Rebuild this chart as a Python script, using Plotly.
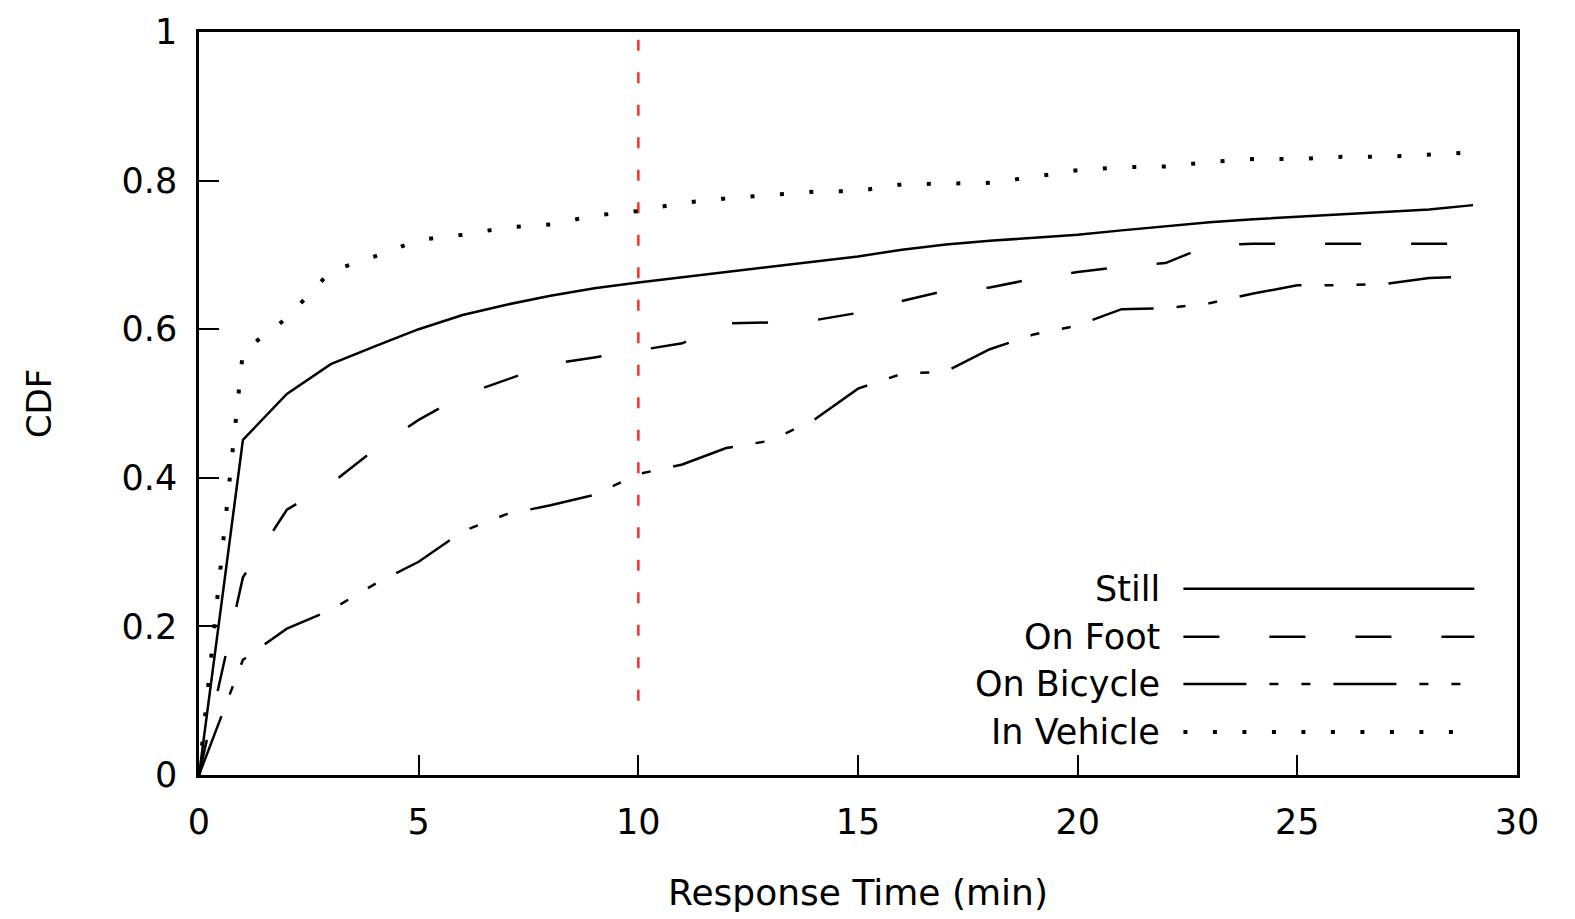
import plotly.graph_objects as go

# ---------------- data ----------------
time_min = list(range(0, 30))

still = [0, 0.451, 0.513, 0.553, 0.577, 0.600, 0.619, 0.633, 0.645, 0.655,
         0.663, 0.670, 0.677, 0.684, 0.690, 0.698, 0.707, 0.714, 0.719, 0.723,
         0.727, 0.733, 0.739, 0.744, 0.748, 0.751, 0.754, 0.757, 0.761, 0.767]

on_foot = [0, 0.266, 0.357, 0.392, 0.438, 0.478, 0.511, 0.532, 0.553, 0.562,
           0.572, 0.581, 0.608, 0.609, 0.612, 0.622, 0.638, 0.652, 0.656, 0.668,
           0.677, 0.684, 0.689, 0.713, 0.715, 0.715, 0.715, 0.715, 0.715, 0.715]

on_bicycle = [0, 0.155, 0.197, 0.222, 0.257, 0.287, 0.328, 0.351, 0.363, 0.377,
              0.405, 0.418, 0.440, 0.450, 0.478, 0.520, 0.540, 0.543, 0.573, 0.593,
              0.605, 0.627, 0.628, 0.635, 0.648, 0.659, 0.659, 0.661, 0.669, 0.671]

in_vehicle = [0, 0.570, 0.615, 0.678, 0.698, 0.720, 0.727, 0.737, 0.741, 0.753,
              0.759, 0.770, 0.776, 0.780, 0.785, 0.786, 0.795, 0.796, 0.797, 0.805,
              0.814, 0.818, 0.819, 0.825, 0.829, 0.829, 0.832, 0.832, 0.835, 0.838]

threshold_x = [10, 10]
threshold_y = [0.1, 1.0]

series_names = ["Still", "On Foot", "On Bicycle", "In Vehicle"]
x_ticks = [0, 5, 10, 15, 20, 25, 30]
y_ticks = [0, 0.2, 0.4, 0.6, 0.8, 1]
y_tick_labels = ["0", "0.2", "0.4", "0.6", "0.8", "1"]

# ---------------- styles ----------------
FONT = "DejaVu Sans"
dashes = ["solid", "36px,50px", "63px,23px,9px,23px,9px,23px", "4px,25.5px"]
widths = [2.5, 2.5, 2.5, 4]
series_values = [still, on_foot, on_bicycle, in_vehicle]

fig = go.Figure()

fig.add_trace(go.Scatter(
    x=threshold_x, y=threshold_y, mode="lines",
    line=dict(color="#ff3333", width=2.6, dash="11px,21.5px"),
    showlegend=False, hoverinfo="skip"))

for name, vals, dash, w in zip(series_names, series_values, dashes, widths):
    fig.add_trace(go.Scatter(
        x=time_min, y=vals, mode="lines", name=name,
        line=dict(color="black", width=w, dash=dash),
        showlegend=False))

# custom legend (text left of long line samples)
legend_rows = [0.2506, 0.186, 0.1224, 0.0578]
for name, dash, w, yy in zip(series_names, dashes, widths, legend_rows):
    fig.add_shape(type="line", xref="x domain", yref="y domain",
                  x0=0.7469, x1=0.9676, y0=yy, y1=yy,
                  line=dict(color="black", width=w, dash=dash))
    fig.add_annotation(xref="x domain", yref="y domain", x=0.7307, y=yy,
                       text=name, showarrow=False, xanchor="right", yanchor="middle",
                       font=dict(family=FONT, size=35, color="black"))

fig.update_layout(
    width=1575, height=919, autosize=False,
    margin=dict(l=199, r=58, t=27, b=143, pad=0),
    plot_bgcolor="white", paper_bgcolor="white",
    font=dict(family=FONT, size=35, color="black"),
    xaxis=dict(range=[0, 30], tickvals=x_ticks, ticks="inside", ticklen=20,
               tickwidth=2, tickcolor="black", showline=True, linecolor="black",
               linewidth=2.5, mirror=True, showgrid=False, zeroline=False,
               tickfont=dict(family=FONT, size=35), ticklabelstandoff=14,
               title=dict(text="Response Time (min)", font=dict(family=FONT, size=36),
                          standoff=40)),
    yaxis=dict(range=[0, 1], tickvals=y_ticks, ticktext=y_tick_labels,
               ticks="inside", ticklen=20, tickwidth=2, tickcolor="black",
               showline=True, linecolor="black", linewidth=2.5, mirror=True,
               showgrid=False, zeroline=False, ticklabelstandoff=12,
               tickfont=dict(family=FONT, size=35),
               title=dict(text="CDF", font=dict(family=FONT, size=34), standoff=60)),
)

fig.write_html("out.html", config={"displayModeBar": False},
               post_script="document.body.style.margin='0';")
